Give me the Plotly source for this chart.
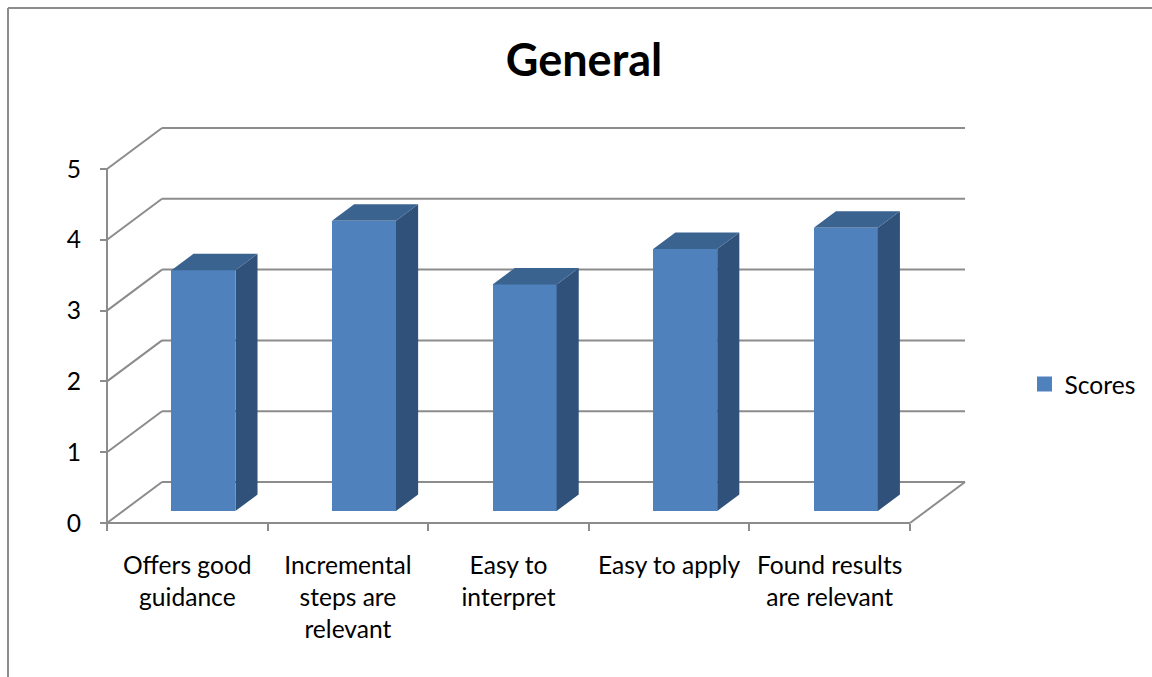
import plotly.graph_objects as go

# Chart content
categories = ["Offers good<br>guidance", "Incremental<br>steps are<br>relevant", "Easy to<br>interpret",
              "Easy to apply", "Found results<br>are relevant"]
scores = [3.4, 4.1, 3.2, 3.7, 4.0]
value_ticks = [0, 1, 2, 3, 4, 5]
series_name = "Scores"

# Colours
FRONT = "#4F81BD"
SIDE = "#30527A"
TOP = "#3B6390"
GREY = "#8C8C8C"
FONT = "Lato"
TEXT_SIZE = 24.6

# Canvas and oblique projection settings (axis units)
W, H = 1152, 677
X0_PX, Y0_PX = 107, 523
CAT_PX, UNIT_PX = 160.6, 70.8
DEPTH_X = 55 / CAT_PX
DEPTH_Y = 41 / UNIT_PX
BAR_WIDTH = 64 / CAT_PX
BAR_NEAR = 12 / 41
BAR_FAR = 28.5 / 41


def proj(cat, val, depth):
    """Oblique projection of a (category, value, depth) point onto the page plane."""
    return cat + depth * DEPTH_X, val + depth * DEPTH_Y


fig = go.Figure()

# Front faces of the columns
fig.add_trace(go.Bar(
    x=[proj(i + 0.5, 0, BAR_NEAR)[0] for i in range(len(scores))],
    y=scores,
    base=proj(0, 0, BAR_NEAR)[1],
    width=BAR_WIDTH,
    marker=dict(color=FRONT, line=dict(width=0)),
    showlegend=False,
    name=series_name,
))

# Side and top faces of the columns
for i, v in enumerate(scores):
    left, right = i + 0.5 - BAR_WIDTH / 2, i + 0.5 + BAR_WIDTH / 2
    side = [proj(right, 0, BAR_NEAR), proj(right, 0, BAR_FAR), proj(right, v, BAR_FAR), proj(right, v, BAR_NEAR)]
    top = [proj(left, v, BAR_NEAR), proj(left, v, BAR_FAR), proj(right, v, BAR_FAR), proj(right, v, BAR_NEAR)]
    for poly, colour in ((side, SIDE), (top, TOP)):
        fig.add_trace(go.Scatter(
            x=[p[0] for p in poly] + [poly[0][0]],
            y=[p[1] for p in poly] + [poly[0][1]],
            mode="lines", fill="toself", fillcolor=colour,
            line=dict(width=0, color=colour), hoverinfo="skip", showlegend=False,
        ))

# Legend entry
fig.add_trace(go.Scatter(
    x=[None], y=[None], mode="markers", name=series_name,
    marker=dict(symbol="square", size=15, color=FRONT),
))

# Wall gridlines, floor outline and front axis lines
shapes = []


def seg(a, b):
    shapes.append(dict(type="line", xref="x", yref="y", layer="below",
                       x0=a[0], y0=a[1], x1=b[0], y1=b[1],
                       line=dict(color=GREY, width=2)))


n = len(categories)
for t in value_ticks:
    seg(proj(0, t, 0), proj(0, t, 1))
    seg(proj(0, t, 1), proj(n, t, 1))
seg(proj(0, 0, 0), proj(n, 0, 0))
seg(proj(n, 0, 0), proj(n, 0, 1))
seg(proj(0, 0, 0), proj(0, value_ticks[-1], 0))

# Outer chart frame, open on the right and bottom
for x0, y0, x1, y1 in ((8 / W, 1 - 8 / H, 1, 1 - 8 / H), (8 / W, 0, 8 / W, 1 - 8 / H)):
    shapes.append(dict(type="line", xref="paper", yref="paper", layer="below",
                       x0=x0, y0=y0, x1=x1, y1=y1, line=dict(color=GREY, width=2)))

fig.update_layout(
    width=W, height=H,
    margin=dict(l=0, r=0, t=0, b=0),
    paper_bgcolor="white", plot_bgcolor="white",
    font=dict(family=FONT, size=TEXT_SIZE, color="black"),
    title=dict(text="<b>General</b>", x=584 / W, xanchor="center", y=1 - 60 / H, yanchor="middle",
               font=dict(family=FONT, size=45, color="black")),
    shapes=shapes,
    bargap=0,
    xaxis=dict(
        range=[-X0_PX / CAT_PX, (W - X0_PX) / CAT_PX], domain=[0, 1],
        anchor="free", position=1 - Y0_PX / H,
        tickmode="array", tickvals=[i + 0.5 for i in range(n)], ticktext=categories,
        ticks="", ticklabelstandoff=25, tickangle=0,
        tickfont=dict(family=FONT, size=TEXT_SIZE, color="black"),
        minor=dict(tickmode="array", tickvals=list(range(n + 1)), ticks="outside",
                   ticklen=7, tickwidth=2, tickcolor=GREY, showgrid=False),
        showgrid=False, zeroline=False, showline=False,
    ),
    yaxis=dict(
        range=[(Y0_PX - H) / UNIT_PX, Y0_PX / UNIT_PX], domain=[0, 1],
        anchor="free", position=X0_PX / W,
        tickmode="array", tickvals=value_ticks,
        ticks="outside", ticklen=7, tickwidth=2, tickcolor=GREY,
        ticklabelstandoff=14,
        tickfont=dict(family=FONT, size=TEXT_SIZE, color="black"),
        showgrid=False, zeroline=False, showline=False,
    ),
    legend=dict(x=1024.5 / W, xanchor="left", y=1 - 384 / H, yanchor="middle",
                bgcolor="rgba(0,0,0,0)", font=dict(family=FONT, size=TEXT_SIZE, color="black"),
                itemclick=False, itemdoubleclick=False),
    showlegend=True,
)

fig.write_html("out.html")
